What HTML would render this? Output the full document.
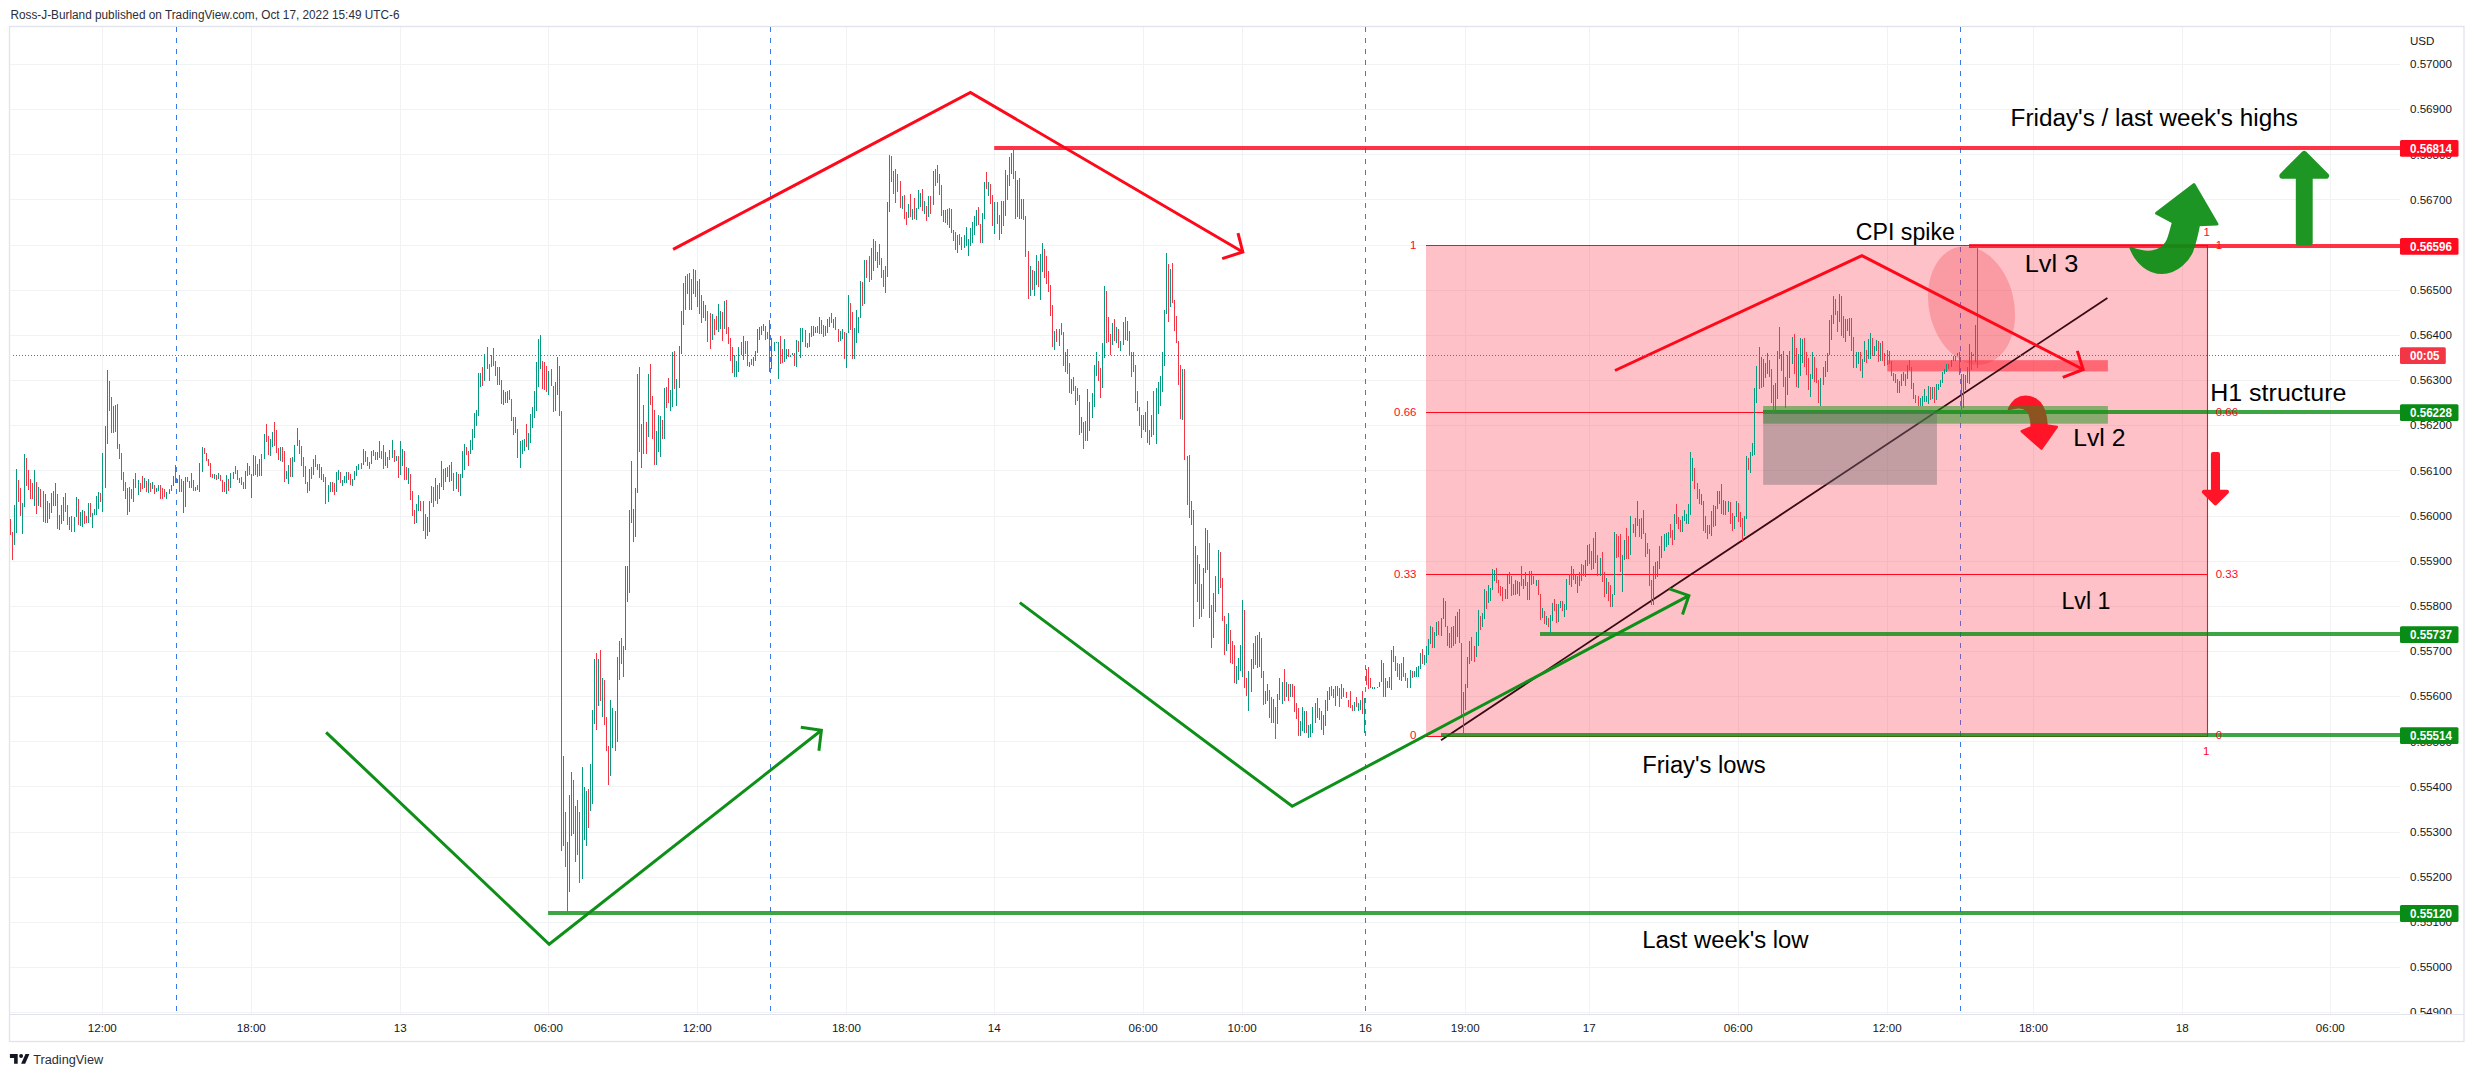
<!DOCTYPE html><html><head><meta charset="utf-8"><style>html,body{margin:0;padding:0;background:#fff;width:2474px;height:1077px;overflow:hidden}svg{display:block}text{font-family:"Liberation Sans",sans-serif}</style></head><body>
<svg width="2474" height="1077" viewBox="0 0 2474 1077">
<text x="10.5" y="19" font-size="12" fill="#2a2e39" textLength="389" lengthAdjust="spacingAndGlyphs">Ross-J-Burland published on TradingView.com, Oct 17, 2022 15:49 UTC-6</text>
<rect x="9.5" y="26.5" width="2454.5" height="1015" fill="#fff" stroke="#e0e3eb" stroke-width="1.3"/>
<defs><clipPath id="pc"><rect x="10" y="27" width="2390" height="987"/></clipPath></defs>
<path d="M10 64.5H2400M10 109.5H2400M10 154.5H2400M10 199.5H2400M10 245.5H2400M10 290.5H2400M10 335.5H2400M10 380.5H2400M10 425.5H2400M10 470.5H2400M10 516.5H2400M10 561.5H2400M10 606.5H2400M10 651.5H2400M10 696.5H2400M10 741.5H2400M10 786.5H2400M10 832.5H2400M10 877.5H2400M10 922.5H2400M10 967.5H2400M10 1012.5H2400M102.5 27V1014M251.5 27V1014M400.5 27V1014M548.5 27V1014M697.5 27V1014M846.5 27V1014M994.5 27V1014M1143.5 27V1014M1242.5 27V1014M1465.5 27V1014M1589.5 27V1014M1738.5 27V1014M1887.5 27V1014M2033.5 27V1014M2182.5 27V1014M2330.5 27V1014" stroke="#f1f2f3" stroke-width="1" fill="none"/>
<path d="M176.5 27V1014" stroke="#3b78e8" stroke-width="1" stroke-dasharray="5 6" fill="none"/>
<path d="M770.5 27V1014" stroke="#3b78e8" stroke-width="1" stroke-dasharray="5 6" fill="none"/>
<path d="M1365.5 27V1014" stroke="#3b78e8" stroke-width="1" stroke-dasharray="5 6" fill="none"/>
<path d="M1960.5 27V1014" stroke="#3b78e8" stroke-width="1" stroke-dasharray="5 6" fill="none"/>
<path d="M10 1014.5H2464" stroke="#e0e3eb" stroke-width="1" fill="none"/>
<g fill="#131722" clip-path="url(#pac)"><text x="2410" y="68.2" font-size="11.6">0.57000</text><text x="2410" y="113.4" font-size="11.6">0.56900</text><text x="2410" y="158.5" font-size="11.6">0.56800</text><text x="2410" y="203.7" font-size="11.6">0.56700</text><text x="2410" y="248.8" font-size="11.6">0.56600</text><text x="2410" y="294.0" font-size="11.6">0.56500</text><text x="2410" y="339.1" font-size="11.6">0.56400</text><text x="2410" y="384.3" font-size="11.6">0.56300</text><text x="2410" y="429.4" font-size="11.6">0.56200</text><text x="2410" y="474.6" font-size="11.6">0.56100</text><text x="2410" y="519.7" font-size="11.6">0.56000</text><text x="2410" y="564.9" font-size="11.6">0.55900</text><text x="2410" y="610.0" font-size="11.6">0.55800</text><text x="2410" y="655.2" font-size="11.6">0.55700</text><text x="2410" y="700.3" font-size="11.6">0.55600</text><text x="2410" y="745.5" font-size="11.6">0.55500</text><text x="2410" y="790.6" font-size="11.6">0.55400</text><text x="2410" y="835.8" font-size="11.6">0.55300</text><text x="2410" y="880.9" font-size="11.6">0.55200</text><text x="2410" y="926.1" font-size="11.6">0.55100</text><text x="2410" y="971.2" font-size="11.6">0.55000</text><text x="2410" y="1016.4" font-size="11.6">0.54900</text></g>
<defs><clipPath id="pac"><rect x="2401" y="27" width="60" height="987"/></clipPath></defs>
<text x="2410" y="44.7" font-size="11.6" fill="#131722">USD</text>
<g fill="#131722"><text x="102.3" y="1032.2" font-size="11.6" text-anchor="middle">12:00</text><text x="251.3" y="1032.2" font-size="11.6" text-anchor="middle">18:00</text><text x="400.2" y="1032.2" font-size="11.6" text-anchor="middle">13</text><text x="548.5" y="1032.2" font-size="11.6" text-anchor="middle">06:00</text><text x="697.3" y="1032.2" font-size="11.6" text-anchor="middle">12:00</text><text x="846.4" y="1032.2" font-size="11.6" text-anchor="middle">18:00</text><text x="994.3" y="1032.2" font-size="11.6" text-anchor="middle">14</text><text x="1143.1" y="1032.2" font-size="11.6" text-anchor="middle">06:00</text><text x="1242.1" y="1032.2" font-size="11.6" text-anchor="middle">10:00</text><text x="1365.4" y="1032.2" font-size="11.6" text-anchor="middle">16</text><text x="1465.2" y="1032.2" font-size="11.6" text-anchor="middle">19:00</text><text x="1589.3" y="1032.2" font-size="11.6" text-anchor="middle">17</text><text x="1738.2" y="1032.2" font-size="11.6" text-anchor="middle">06:00</text><text x="1887.1" y="1032.2" font-size="11.6" text-anchor="middle">12:00</text><text x="2033.4" y="1032.2" font-size="11.6" text-anchor="middle">18:00</text><text x="2182.3" y="1032.2" font-size="11.6" text-anchor="middle">18</text><text x="2330.3" y="1032.2" font-size="11.6" text-anchor="middle">06:00</text></g>
<path d="M9.9 1054.1H17.7V1063.8H14.1V1058H9.9Z" fill="#131722"/><circle cx="21.1" cy="1056" r="1.95" fill="#131722"/><path d="M25.5 1054.1H29.4L25.2 1063.8H21.1Z" fill="#131722"/>
<text x="33.2" y="1063.8" font-size="12.5" fill="#2a2e39" textLength="70" lengthAdjust="spacingAndGlyphs">TradingView</text>
<g clip-path="url(#pc)">
<rect x="1426" y="245" width="781.5" height="492" fill="rgba(252,50,70,0.3)"/><path d="M1426 412.5H1763" stroke="#ff0a1e" stroke-width="1.2" fill="none"/><path d="M1426 245.5H2207.5M1426 574.5H2207.5M1426 736.5H2207.5M2207.5 245V737" stroke="#ff0a1e" stroke-width="1.1" fill="none"/><ellipse cx="1971.5" cy="305.5" rx="42.5" ry="60" transform="rotate(-13 1971.5 305.5)" fill="rgba(242,54,69,0.28)"/><rect x="1887.3" y="360.2" width="220.6" height="11.2" fill="rgba(255,30,50,0.55)"/><path d="M2212.9 454.1H2218V491.8H2227L2215.4 503.4L2203.8 491.8H2212.9Z" fill="#ff1428" stroke="#ff1428" stroke-width="4" stroke-linejoin="round"/><path d="M1441 740.3L2107.4 298" stroke="#3a0a14" stroke-width="1.8" fill="none"/><path d="M994.2 148H2400M1969 246H2400" stroke="rgba(255,0,22,0.8)" stroke-width="4" fill="none"/><path d="M1763 412H2400M1540 634H2400M1441 735H2400M548.1 913H2400" stroke="rgba(0,137,9,0.76)" stroke-width="4" fill="none"/><path d="M2009 408.9 C2013 401 2019 396.8 2025.5 396.8 C2034 396.8 2041 402 2044.3 411.5 C2045.7 416 2046.3 421 2046.6 425.5 L2056.8 426.9 L2041.5 448.6 L2021.8 431.2 L2031.8 427.1 C2031.6 420 2030.5 414 2027.5 410.5 C2024.5 407.6 2021 407 2018 407.3 C2014.5 407.6 2011.5 408.4 2009 408.9 Z" fill="#ff1428" stroke="#ff1428" stroke-width="2.5" stroke-linejoin="round"/><rect x="1763.2" y="406" width="344.7" height="17.7" fill="rgba(24,147,24,0.5)"/><rect x="1763.2" y="412" width="173.7" height="72.8" fill="rgba(105,105,110,0.4)"/><path d="M1977.5 246V368" stroke="#f23645" stroke-width="1" fill="none"/><path d="M673.1 249.4L970.4 92.4L1242.8 252M1238 233.1L1242.8 252L1222.2 258.6" stroke="#ff0819" stroke-width="3" fill="none" stroke-linejoin="miter"/><path d="M1615 370.5L1861.9 255.6L2083.2 369.5M2077.3 350.9L2083.2 369.5L2062.8 377.4" stroke="#ff0819" stroke-width="3" fill="none"/><path d="M326.1 732.3L549.2 944.3L821.4 730.2M800.8 727.3L821.4 730.2L818.9 750.7" stroke="#0d8f18" stroke-width="3" fill="none"/><path d="M1019.8 602.6L1292.2 806.3L1688.9 595.6M1669.4 588.9L1688.9 595.6L1682.5 614.5" stroke="#0d8f18" stroke-width="3" fill="none"/><path d="M2131 248.3 C2138 251 2146 253 2152.9 251.8 C2160 250.5 2165 246 2167.2 242.1 C2169.5 238 2171 231 2173.4 222.3 L2156.6 213.3 L2193.9 184.6 L2216.9 224 L2198.6 224.8 C2197.4 231 2195.8 239 2193.2 246.6 C2190 260 2176 272.6 2162 272.6 C2149 272.6 2137 263 2131 248.3 Z" fill="#0c8e14" stroke="#0c8e14" stroke-width="3" stroke-linejoin="round" opacity="0.93"/><path d="M2304.2 153.9L2326.1 175.8H2309.7V242.8H2298.8V175.8H2282.3Z" fill="#1e9624" stroke="#1e9624" stroke-width="6" stroke-linejoin="round"/><path d="M13 355.5H2400" stroke="#f23645" stroke-width="1" stroke-dasharray="1 2" fill="none"/><path d="M14.5 505V545M16.5 469V533M22.5 503V534M24.5 454V507M34.5 470V506M38.5 487V506M45.5 494V523M47.5 501V523M51.5 493V513M55.5 483V506M59.5 515V530M61.5 505V524M63.5 497V521M69.5 517V530M74.5 517V532M76.5 497V517M80.5 512V526M82.5 510V527M88.5 503V523M92.5 513V528M94.5 509V515M96.5 496V515M98.5 492V509M102.5 453V512M105.5 426V488M107.5 370V444M113.5 406V433M115.5 405V432M129.5 487V512M133.5 479V502M138.5 480V495M144.5 478V488M148.5 479V493M152.5 482V489M156.5 488V492M158.5 485V491M166.5 492V499M169.5 489V494M171.5 485V491M173.5 476V486M177.5 479V483M183.5 481V513M185.5 477V507M191.5 473V488M195.5 487V491M197.5 485V490M199.5 463V492M202.5 447V472M214.5 474V479M218.5 473V479M226.5 475V494M230.5 473V488M233.5 472V479M239.5 478V483M245.5 471V489M247.5 463V476M251.5 474V498M253.5 455V476M259.5 459V476M261.5 454V476M264.5 434V459M270.5 439V456M272.5 432V447M280.5 447V461M286.5 471V479M288.5 465V484M292.5 457V477M294.5 445V462M297.5 428V446M309.5 469V491M313.5 459V475M317.5 464V470M321.5 467V480M328.5 485V502M330.5 482V492M336.5 472V492M338.5 470V480M342.5 480V486M344.5 476V483M346.5 472V483M352.5 479V486M354.5 471V480M356.5 466V476M358.5 464V470M361.5 463V469M363.5 449V465M371.5 451V464M377.5 452V460M379.5 441V458M385.5 452V466M389.5 450V460M392.5 440V458M396.5 456V461M400.5 441V475M402.5 449V466M408.5 468V484M416.5 504V523M418.5 495V511M427.5 517V536M429.5 501V532M431.5 486V503M435.5 478V501M439.5 483V499M441.5 461V487M445.5 468V482M449.5 465V482M456.5 472V489M460.5 474V496M462.5 451V478M464.5 444V470M470.5 440V454M472.5 429V450M474.5 413V438M476.5 410V426M478.5 373V416M480.5 373V387M484.5 354V381M491.5 355V367M499.5 367V385M503.5 390V405M505.5 392V403M507.5 391V403M515.5 417V433M520.5 441V468M522.5 440V454M524.5 439V451M528.5 433V450M530.5 414V443M532.5 407V428M534.5 391V418M536.5 362V411M538.5 339V387M540.5 335V369M548.5 371V395M555.5 382V411M557.5 357V395M563.5 756V846M569.5 795V892M571.5 772V836M575.5 806V862M582.5 767V879M584.5 787V840M586.5 791V846M590.5 764V811M592.5 710V804M594.5 659V724M598.5 659V706M602.5 678V717M610.5 700V776M612.5 708V748M617.5 657V742M619.5 641V680M623.5 646V677M625.5 566V650M627.5 566V602M629.5 510V593M631.5 461V523M633.5 509V542M635.5 488V537M637.5 374V493M641.5 424V468M643.5 405V454M648.5 374V437M656.5 431V465M658.5 415V452M660.5 416V457M664.5 388V439M670.5 390V411M672.5 352V407M676.5 379V406M679.5 346V388M681.5 311V354M683.5 283V325M685.5 276V310M691.5 279V310M693.5 269V294M697.5 281V307M703.5 301V318M705.5 305V321M712.5 314V340M718.5 304V332M720.5 311V329M724.5 301V329M734.5 355V377M736.5 361V377M738.5 347V372M743.5 336V360M749.5 362V367M753.5 357V366M755.5 351V361M757.5 329V353M759.5 327V340M761.5 326V335M763.5 324V331M771.5 338V369M774.5 342V351M776.5 342V343M778.5 342V379M784.5 339V362M786.5 349V359M790.5 356V357M792.5 353V355M796.5 340V367M800.5 328V358M802.5 328V342M807.5 343V348M809.5 333V347M811.5 326V337M813.5 326V336M815.5 327V333M819.5 317V334M825.5 326V336M827.5 319V333M829.5 317V327M833.5 319V328M840.5 331V341M842.5 329V339M846.5 333V368M848.5 295V333M854.5 328V359M856.5 310V343M858.5 317V333M860.5 281V318M864.5 260V304M871.5 248V280M873.5 239V271M885.5 266V293M887.5 202V277M889.5 155V212M902.5 196V209M908.5 204V218M912.5 209V220M916.5 208V220M918.5 190V209M920.5 193V207M924.5 201V214M928.5 196V217M933.5 171V205M943.5 210V222M945.5 210V223M949.5 208V228M957.5 235V253M964.5 235V248M966.5 227V246M968.5 239V256M970.5 228V246M972.5 222V243M974.5 216V235M976.5 210V226M982.5 213V243M984.5 182V219M988.5 182V196M994.5 202V234M1001.5 201V234M1005.5 170V216M1009.5 157V186M1011.5 153V174M1017.5 180V217M1021.5 199V219M1030.5 266V296M1034.5 271V296M1036.5 255V285M1040.5 254V300M1042.5 243V272M1054.5 331V350M1059.5 329V346M1065.5 352V372M1071.5 379V394M1081.5 417V433M1087.5 389V441M1089.5 402V431M1092.5 393V418M1094.5 365V407M1096.5 352V376M1102.5 343V388M1104.5 286V358M1112.5 323V345M1116.5 327V343M1120.5 341V351M1123.5 322V345M1127.5 321V341M1141.5 415V438M1145.5 412V432M1149.5 430V445M1151.5 415V437M1156.5 388V444M1158.5 382V414M1160.5 376V406M1162.5 352V392M1164.5 310V366M1166.5 253V314M1170.5 269V307M1182.5 369V420M1191.5 501V525M1195.5 546V584M1199.5 564V619M1203.5 568V609M1205.5 528V573M1213.5 593V638M1215.5 576V612M1218.5 550V594M1226.5 624V651M1228.5 613V644M1236.5 666V684M1238.5 658V680M1240.5 645V671M1242.5 600V677M1248.5 671V711M1251.5 659V692M1253.5 643V669M1257.5 635V668M1259.5 632V667M1265.5 691V704M1267.5 684V701M1273.5 699V723M1277.5 694V724M1279.5 678V700M1282.5 682V704M1286.5 682V697M1290.5 684V697M1300.5 721V736M1302.5 707V731M1304.5 711V733M1308.5 725V738M1310.5 724V737M1312.5 707V733M1315.5 703V723M1317.5 698V718M1323.5 715V735M1325.5 700V726M1327.5 691V711M1329.5 687V700M1333.5 689V698M1335.5 686V706M1337.5 686V696M1343.5 688V697M1354.5 702V711M1358.5 703V711M1360.5 700V710M1364.5 698V733M1372.5 687V689M1374.5 687V689M1377.5 687V688M1379.5 682V687M1381.5 660V682M1385.5 678V697M1387.5 681V688M1389.5 677V688M1391.5 650V690M1401.5 663V681M1410.5 670V688M1414.5 671V677M1416.5 667V677M1418.5 666V677M1420.5 653V669M1424.5 655V665M1426.5 646V663M1428.5 639V655M1430.5 626V644M1434.5 632V648M1436.5 622V636M1441.5 618V636M1443.5 598V619M1449.5 633V648M1453.5 626V646M1455.5 616V644M1457.5 612V637M1465.5 684V710M1467.5 657V688M1469.5 641V664M1476.5 632V657M1478.5 610V646M1482.5 613V627M1484.5 589V619M1488.5 585V603M1490.5 588V601M1492.5 569V590M1494.5 570V581M1505.5 589V599M1507.5 575V599M1509.5 572V584M1515.5 580V595M1517.5 581V594M1519.5 582V596M1523.5 579V589M1525.5 572V586M1529.5 571V600M1536.5 580V586M1542.5 608V618M1546.5 616V625M1550.5 615V633M1552.5 603V621M1558.5 604V622M1560.5 601V608M1564.5 604V617M1566.5 579V610M1571.5 566V587M1575.5 574V584M1579.5 572V586M1581.5 564V581M1585.5 560V577M1587.5 545V566M1593.5 538V569M1600.5 558V576M1606.5 578V594M1612.5 594V607M1614.5 532V595M1622.5 555V592M1624.5 540V560M1630.5 516V555M1633.5 524V533M1635.5 518V537M1637.5 501V526M1641.5 518V539M1653.5 566V605M1655.5 562V579M1657.5 561V577M1659.5 546V569M1661.5 536V558M1664.5 534V551M1666.5 533V547M1668.5 532V545M1674.5 514V540M1682.5 516V532M1684.5 510V521M1686.5 514V524M1688.5 504V524M1690.5 452V515M1692.5 458V481M1701.5 494V505M1709.5 525V534M1711.5 511V536M1715.5 506V526M1717.5 491V509M1719.5 491V504M1725.5 501V515M1728.5 501V512M1734.5 516V529M1736.5 501V517M1744.5 516V536M1746.5 456V519M1750.5 452V473M1752.5 443V456M1754.5 388V455M1756.5 366V403M1759.5 347V389M1763.5 359V387M1765.5 363V378M1767.5 353V374M1775.5 383V411M1777.5 351V399M1781.5 354V371M1787.5 355V395M1789.5 351V378M1792.5 337V364M1798.5 354V388M1800.5 338V376M1802.5 339V363M1810.5 374V397M1812.5 352V379M1820.5 378V406M1823.5 367V385M1825.5 361V377M1827.5 353V372M1829.5 320V355M1831.5 315V340M1833.5 296V324M1839.5 294V322M1845.5 319V342M1849.5 318V336M1856.5 352V368M1858.5 352V364M1862.5 359V378M1864.5 341V362M1868.5 339V359M1870.5 333V359M1874.5 346V356M1876.5 340V351M1880.5 343V361M1887.5 350V365M1899.5 381V393M1901.5 374V386M1903.5 372V381M1907.5 365V379M1920.5 398V406M1922.5 396V406M1924.5 389V402M1926.5 396V402M1928.5 386V404M1932.5 387V399M1936.5 384V400M1938.5 384V390M1940.5 380V387M1942.5 372V383M1944.5 369V374M1946.5 364V372M1951.5 360V367M1953.5 356V361M1955.5 356V361M1957.5 353V356M1963.5 374V408M1965.5 375V390M1967.5 367V383M1969.5 344V384M1975.5 325V362" stroke="#089981" stroke-width="1" fill="none"/><path d="M10.5 519V535M12.5 532V560M18.5 480V502M20.5 488V516M26.5 458V486M28.5 470V490M30.5 479V499M32.5 483V499M36.5 482V514M40.5 489V507M43.5 491V522M49.5 503V519M53.5 491V506M57.5 494V529M65.5 493V512M67.5 505V525M71.5 516V532M78.5 499V525M84.5 511V524M86.5 516V523M90.5 503V517M100.5 493V502M109.5 381V411M111.5 397V433M117.5 404V449M119.5 444V459M121.5 453V480M123.5 472V491M125.5 482V499M127.5 488V515M131.5 489V499M135.5 473V488M140.5 483V492M142.5 476V489M146.5 481V492M150.5 483V492M154.5 485V494M160.5 485V499M162.5 488V499M164.5 489V497M175.5 465V483M179.5 475V492M181.5 479V492M187.5 477V482M189.5 481V488M193.5 480V491M204.5 448V454M206.5 453V461M208.5 459V466M210.5 463V477M212.5 474V478M216.5 475V480M220.5 475V481M222.5 480V492M224.5 482V492M228.5 479V491M235.5 466V474M237.5 470V480M241.5 477V485M243.5 482V489M249.5 466V475M255.5 456V475M257.5 464V477M266.5 424V442M268.5 436V455M274.5 422V446M276.5 430V453M278.5 448V460M282.5 447V462M284.5 451V482M290.5 458V477M299.5 440V454M301.5 446V466M303.5 457V477M305.5 466V484M307.5 482V493M311.5 467V479M315.5 455V467M319.5 464V478M323.5 474V482M325.5 477V504M332.5 482V492M334.5 483V495M340.5 472V483M348.5 472V480M350.5 474V485M365.5 451V462M367.5 457V466M369.5 462V469M373.5 450V456M375.5 452V460M381.5 451V459M383.5 445V469M387.5 457V468M394.5 450V462M398.5 456V478M404.5 451V480M406.5 467V480M410.5 474V500M412.5 491V516M414.5 510V524M420.5 501V511M423.5 501V531M425.5 514V539M433.5 487V507M437.5 485V504M443.5 469V490M447.5 467V477M451.5 462V481M453.5 473V491M458.5 474V492M466.5 447V455M468.5 451V466M482.5 367V386M487.5 347V369M489.5 364V381M493.5 348V366M495.5 361V376M497.5 367V385M501.5 380V404M509.5 390V400M511.5 399V421M513.5 417V435M517.5 429V458M526.5 424V447M542.5 361V389M544.5 362V390M546.5 366V392M551.5 369V386M553.5 386V412M559.5 366V416M561.5 411V851M565.5 812V867M567.5 842V912M573.5 780V834M577.5 800V855M579.5 812V883M588.5 789V828M596.5 653V730M600.5 650V701M604.5 680V725M606.5 717V751M608.5 746V785M615.5 711V751M621.5 638V664M639.5 367V452M646.5 422V454M650.5 364V405M652.5 396V439M654.5 410V465M662.5 420V439M666.5 387V408M668.5 378V403M674.5 351V389M687.5 274V294M689.5 273V310M695.5 270V297M699.5 279V314M701.5 295V323M707.5 311V342M710.5 313V349M714.5 319V335M716.5 316V330M722.5 312V341M726.5 300V334M728.5 327V344M730.5 338V361M732.5 347V373M741.5 342V355M745.5 341V354M747.5 341V366M751.5 359V365M765.5 326V340M767.5 332V339M769.5 320V372M780.5 336V364M782.5 349V363M788.5 349V357M794.5 353V366M798.5 341V352M805.5 330V347M817.5 326V333M821.5 320V334M823.5 325V337M831.5 313V323M835.5 317V330M838.5 329V342M844.5 332V359M850.5 303V330M852.5 312V359M862.5 282V306M866.5 260V278M869.5 256V282M875.5 241V261M877.5 252V268M879.5 244V265M881.5 258V278M883.5 270V287M891.5 156V182M893.5 171V194M895.5 169V203M897.5 174V192M900.5 181V208M904.5 195V219M906.5 212V225M910.5 194V217M914.5 198V219M922.5 189V211M926.5 206V221M930.5 196V214M935.5 169V186M937.5 165V183M939.5 174V195M941.5 185V216M947.5 209V225M951.5 209V233M953.5 230V241M955.5 232V250M959.5 234V245M961.5 237V250M978.5 207V225M980.5 224V243M986.5 172V189M990.5 184V204M992.5 195V226M997.5 202V224M999.5 215V240M1003.5 201V226M1007.5 175V200M1013.5 150V179M1015.5 171V219M1019.5 178V219M1023.5 199V220M1025.5 216V257M1028.5 251V299M1032.5 270V290M1038.5 261V287M1044.5 249V278M1046.5 256V284M1048.5 271V292M1050.5 285V316M1052.5 305V347M1056.5 329V342M1061.5 323V335M1063.5 332V366M1067.5 349V374M1069.5 363V393M1073.5 377V391M1075.5 386V405M1077.5 388V401M1079.5 395V435M1083.5 422V449M1085.5 421V441M1098.5 361V381M1100.5 368V398M1106.5 291V343M1108.5 317V342M1110.5 334V355M1114.5 319V341M1118.5 329V348M1125.5 317V340M1129.5 331V355M1131.5 352V377M1133.5 352V372M1135.5 365V403M1137.5 391V411M1139.5 407V426M1143.5 415V430M1147.5 401V443M1153.5 391V435M1168.5 264V322M1172.5 263V303M1174.5 300V331M1176.5 316V343M1178.5 341V385M1180.5 365V419M1184.5 369V460M1187.5 456V505M1189.5 455V518M1193.5 510V627M1197.5 555V602M1201.5 584V617M1207.5 530V570M1209.5 543V618M1211.5 605V648M1220.5 552V588M1222.5 578V621M1224.5 616V655M1230.5 630V663M1232.5 641V664M1234.5 645V683M1244.5 610V688M1246.5 678V696M1255.5 636V665M1261.5 638V678M1263.5 671V705M1269.5 690V718M1271.5 697V723M1275.5 707V739M1284.5 669V701M1288.5 684V701M1292.5 684V697M1294.5 686V712M1296.5 703V719M1298.5 708V736M1306.5 711V733M1319.5 708V720M1321.5 711V730M1331.5 686V696M1339.5 688V707M1341.5 684V699M1346.5 692V698M1348.5 700V707M1350.5 691V708M1352.5 705V711M1356.5 697V707M1362.5 691V714M1366.5 669V685M1368.5 667V689M1370.5 678V688M1383.5 663V697M1393.5 646V662M1395.5 656V671M1397.5 663V677M1399.5 664V680M1403.5 657V677M1405.5 673V681M1407.5 678V688M1412.5 671V678M1422.5 649V664M1432.5 627V648M1438.5 621V635M1445.5 601V627M1447.5 626V646M1451.5 627V648M1459.5 609V643M1461.5 643V715M1463.5 692V734M1471.5 637V661M1474.5 646V662M1480.5 616V630M1486.5 591V609M1496.5 568V583M1498.5 580V593M1500.5 586V596M1502.5 587V601M1511.5 576V596M1513.5 584V595M1521.5 566V586M1527.5 582V600M1531.5 571V585M1533.5 576V584M1538.5 580V595M1540.5 594V620M1544.5 611V624M1548.5 618V627M1554.5 599V611M1556.5 604V623M1562.5 601V611M1569.5 574V585M1573.5 569V580M1577.5 576V593M1583.5 565V576M1589.5 544V564M1591.5 551V570M1595.5 532V563M1597.5 555V576M1602.5 552V582M1604.5 572V597M1608.5 582V601M1610.5 585V607M1616.5 534V558M1618.5 536V557M1620.5 534V572M1626.5 528V559M1628.5 536V559M1639.5 519V537M1643.5 510V534M1645.5 533V557M1647.5 543V554M1649.5 549V586M1651.5 580V605M1670.5 524V538M1672.5 530V545M1676.5 504V524M1678.5 517V529M1680.5 520V532M1694.5 468V489M1697.5 483V499M1699.5 489V504M1703.5 501V531M1705.5 516V533M1707.5 525V539M1713.5 505V527M1721.5 484V514M1723.5 500V515M1730.5 502V524M1732.5 513V531M1738.5 503V522M1740.5 512V527M1742.5 518V542M1748.5 458V470M1761.5 357V388M1769.5 360V377M1771.5 369V403M1773.5 385V412M1779.5 327V359M1783.5 351V387M1785.5 377V408M1794.5 334V374M1796.5 348V387M1804.5 338V367M1806.5 352V375M1808.5 358V390M1814.5 357V382M1816.5 368V383M1818.5 380V403M1835.5 299V315M1837.5 311V332M1841.5 296V336M1843.5 316V338M1847.5 319V331M1851.5 318V351M1853.5 337V368M1860.5 352V371M1866.5 350V363M1872.5 338V356M1878.5 341V362M1882.5 341V361M1884.5 353V366M1889.5 351V364M1891.5 361V376M1893.5 373V381M1895.5 374V383M1897.5 379V393M1905.5 374V386M1909.5 360V370M1911.5 367V389M1913.5 383V399M1915.5 395V403M1918.5 396V406M1930.5 387V400M1934.5 387V403M1948.5 364V369M1959.5 352V375M1961.5 374V412M1971.5 352V370M1973.5 354V356" stroke="#f23645" stroke-width="1" fill="none"/><text x="2010.6" y="125.7" font-size="23.5" fill="#000" textLength="287.2" lengthAdjust="spacingAndGlyphs">Friday's / last week's highs</text><text x="1855.8" y="239.5" font-size="23.5" fill="#000" textLength="99.1" lengthAdjust="spacingAndGlyphs">CPI spike</text><text x="2024.8" y="271.6" font-size="23.5" fill="#000" textLength="53.4" lengthAdjust="spacingAndGlyphs">Lvl 3</text><text x="2073.2" y="446.3" font-size="23.5" fill="#000" textLength="52.2" lengthAdjust="spacingAndGlyphs">Lvl 2</text><text x="2210.2" y="400.9" font-size="23.5" fill="#000" textLength="136.2" lengthAdjust="spacingAndGlyphs">H1 structure</text><text x="2061.4" y="608.9" font-size="23.5" fill="#000" textLength="49.1" lengthAdjust="spacingAndGlyphs">Lvl 1</text><text x="1642.2" y="772.9" font-size="23.5" fill="#000" textLength="123.4" lengthAdjust="spacingAndGlyphs">Friay's lows</text><text x="1642.2" y="947.9" font-size="23.5" fill="#000" textLength="166.4" lengthAdjust="spacingAndGlyphs">Last week's low</text><text x="1416.5" y="248.8" font-size="11.5" fill="#ff0a1e" text-anchor="end">1</text><text x="1416.5" y="416" font-size="11.5" fill="#ff0a1e" text-anchor="end">0.66</text><text x="1416.5" y="577.6" font-size="11.5" fill="#ff0a1e" text-anchor="end">0.33</text><text x="1416.5" y="739.2" font-size="11.5" fill="#ff0a1e" text-anchor="end">0</text><text x="2215.7" y="248.8" font-size="11.5" fill="#ff0a1e" text-anchor="start">1</text><text x="2215.7" y="416" font-size="11.5" fill="#ff0a1e" text-anchor="start">0.66</text><text x="2215.7" y="577.6" font-size="11.5" fill="#ff0a1e" text-anchor="start">0.33</text><text x="2215.7" y="739.2" font-size="11.5" fill="#ff0a1e" text-anchor="start">0</text><text x="2210" y="236" font-size="11.5" fill="#ff0a1e" text-anchor="end">1</text><text x="2209.5" y="755" font-size="11.5" fill="#ff0a1e" text-anchor="end">1</text>
</g>
<rect x="2400" y="139.9" width="58.5" height="16.8" rx="1.5" fill="#ff0a1e"/><text x="2410" y="152.5" font-size="12" font-weight="bold" fill="#fff" textLength="42" lengthAdjust="spacingAndGlyphs">0.56814</text><rect x="2400" y="238.0" width="58.5" height="16.8" rx="1.5" fill="#ff0a1e"/><text x="2410" y="250.6" font-size="12" font-weight="bold" fill="#fff" textLength="42" lengthAdjust="spacingAndGlyphs">0.56596</text><rect x="2400" y="347.2" width="45.8" height="16.8" rx="1.5" fill="#f23645"/><text x="2410" y="359.8" font-size="12" font-weight="bold" fill="#fff" textLength="29.5" lengthAdjust="spacingAndGlyphs">00:05</text><rect x="2400" y="404.2" width="58.5" height="16.8" rx="1.5" fill="#088c16"/><text x="2410" y="416.8" font-size="12" font-weight="bold" fill="#fff" textLength="42" lengthAdjust="spacingAndGlyphs">0.56228</text><rect x="2400" y="626.2" width="58.5" height="16.8" rx="1.5" fill="#088c16"/><text x="2410" y="638.8" font-size="12" font-weight="bold" fill="#fff" textLength="42" lengthAdjust="spacingAndGlyphs">0.55737</text><rect x="2400" y="727.2" width="58.5" height="16.8" rx="1.5" fill="#088c16"/><text x="2410" y="739.8" font-size="12" font-weight="bold" fill="#fff" textLength="42" lengthAdjust="spacingAndGlyphs">0.55514</text><rect x="2400" y="905.1" width="58.5" height="16.8" rx="1.5" fill="#088c16"/><text x="2410" y="917.7" font-size="12" font-weight="bold" fill="#fff" textLength="42" lengthAdjust="spacingAndGlyphs">0.55120</text>
</svg></body></html>
